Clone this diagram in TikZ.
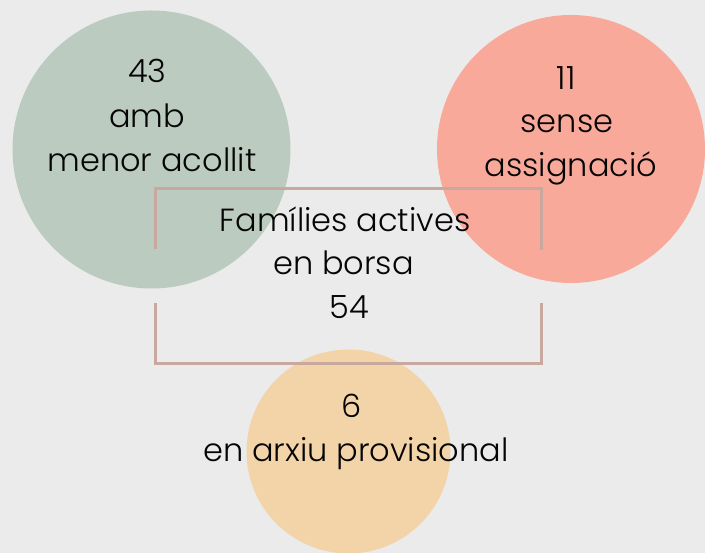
\documentclass[tikz,border=0pt]{standalone}
\usepackage{fontspec}
\setmainfont{Poppins Light}
\definecolor{bgc}{HTML}{EBEBEB}
\definecolor{greenc}{HTML}{BCCBC0}
\definecolor{salmonc}{HTML}{F9A99A}
\definecolor{peachc}{HTML}{F2D4A8}
\definecolor{framec}{HTML}{C9A99F}
\definecolor{txtc}{HTML}{050505}
\begin{document}
\begin{tikzpicture}[x=1pt,y=1pt,
  blob/.style={circle,inner sep=0pt,draw=none},
  lbl/.style={anchor=base,inner sep=0pt,text=txtc,font=\fontsize{32}{38}\selectfont},
  frame/.style={draw=framec,line width=3pt}]
\fill[bgc] (0,0) rectangle (705,553);
\useasboundingbox (0,0) rectangle (705,553);
% circles
\node[blob,fill=greenc,minimum size=278pt] (g) at (151.5,403.5) {};
\node[blob,fill=salmonc,minimum size=268pt] (s) at (571,404) {};
\node[blob,fill=peachc,minimum size=204pt] (p) at (348.5,101.5) {};
% frame brackets
\coordinate (tl) at (155,304);
\coordinate (tr) at (541,303);
\coordinate (bl) at (155,250);
\coordinate (br) at (541,250);
\draw[frame] (tl) |- (355,364) -| (tr);
\draw[frame] (bl) |- (355,189) -| (br);
% texts
\node[lbl] (g1) at (147.5,470) {43};
\node[lbl] (g2) at (147,425) {amb};
\node[lbl] (g3) at (152,381) {menor acollit};
\node[lbl] (s1) at (566,463) {11};
\node[lbl] (s2) at (567,420) {sense};
\node[lbl] (s3) at (571,376) {assignació};
\node[lbl] (c1) at (345,321) {Famílies actives};
\node[lbl] (c2) at (343.5,278) {en borsa};
\node[lbl] (c3) at (349,234) {54};
\node[lbl] (p1) at (352,135) {6};
\node[lbl] (p2) at (356,91) {en arxiu provisional};
\end{tikzpicture}
\end{document}
